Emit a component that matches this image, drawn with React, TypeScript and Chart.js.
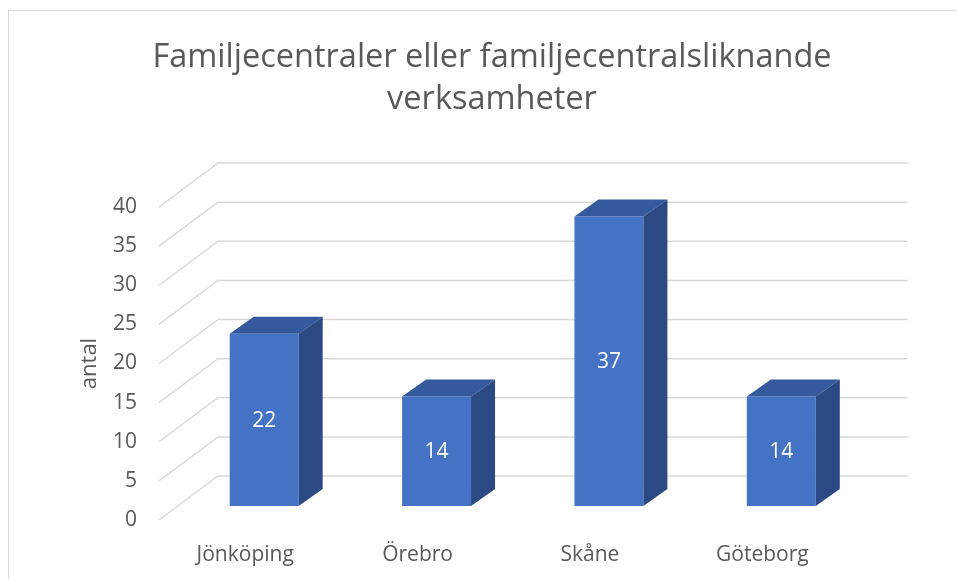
import { useEffect, useRef } from 'react';
import { Chart, registerables } from 'chart.js';

Chart.register(...registerables);

const categories = ['Jönköping', 'Örebro', 'Skåne', 'Göteborg'];
const values = [22, 14, 37, 14];
const titleLines = ['Familjecentraler eller familjecentralsliknande', 'verksamheter'];
const axisTitle = 'antal';
const yMin = 0;
const yMax = 40;
const yStep = 5;

const W = 957;
const H = 579;
const FONT = '"Open Sans", "Noto Sans", sans-serif';
const TEXT = '#595959';
const GRID = '#d9d9d9';
const FRONT = '#4472C4';
const TOP = '#34599C';
const SIDE = '#2B4A83';

// 3D offsets (relative to the bar plane)
const FRONT_DX = -19, FRONT_DY = 14;
const BACK_DX = 40, BACK_DY = -30;
const BAR_DX = 24, BAR_DY = -17;

const threeD = {
  id: 'threeD',
  beforeDraw(chart: any) {
    const { ctx } = chart;
    ctx.save();
    ctx.fillStyle = '#ffffff';
    ctx.fillRect(0, 0, chart.width, chart.height);
    ctx.strokeStyle = GRID;
    ctx.lineWidth = 1;
    ctx.strokeRect(8.5, 10.5, 1400, 1400);
    ctx.fillStyle = TEXT;
    ctx.textAlign = 'center';
    ctx.textBaseline = 'middle';
    ctx.font = `32.5px ${FONT}`;
    ctx.fillText(titleLines[0], 492, 58);
    ctx.fillText(titleLines[1], 492, 100);
    const ys = chart.scales.y;
    const cy = (ys.getPixelForValue(yMin) + ys.getPixelForValue(yMax)) / 2 + FRONT_DY;
    ctx.translate(90, cy);
    ctx.rotate(-Math.PI / 2);
    ctx.font = `22px ${FONT}`;
    ctx.fillText(axisTitle, 0, 0);
    ctx.restore();
  },
  beforeDatasetsDraw(chart: any) {
    const { ctx } = chart;
    const xs = chart.scales.x;
    const ys = chart.scales.y;
    ctx.save();
    ctx.strokeStyle = GRID;
    ctx.lineWidth = 1.5;
    for (let v = yMin; v <= yMax; v += yStep) {
      const y = ys.getPixelForValue(v);
      ctx.beginPath();
      ctx.moveTo(xs.left + FRONT_DX, y + FRONT_DY);
      ctx.lineTo(xs.left + BACK_DX, y + BACK_DY);
      ctx.lineTo(xs.right + BACK_DX, y + BACK_DY);
      ctx.stroke();
    }
    ctx.restore();
  },
  afterDatasetsDraw(chart: any) {
    const { ctx } = chart;
    const meta = chart.getDatasetMeta(0);
    ctx.save();
    meta.data.forEach((bar: any, i: number) => {
      const { x, y, base, width } = bar.getProps(['x', 'y', 'base', 'width'], true);
      const l = x - width / 2;
      const r = x + width / 2;
      // top face
      ctx.fillStyle = TOP;
      ctx.beginPath();
      ctx.moveTo(l, y);
      ctx.lineTo(l + BAR_DX, y + BAR_DY);
      ctx.lineTo(r + BAR_DX, y + BAR_DY);
      ctx.lineTo(r, y);
      ctx.closePath();
      ctx.fill();
      // side face
      ctx.fillStyle = SIDE;
      ctx.beginPath();
      ctx.moveTo(r, y);
      ctx.lineTo(r + BAR_DX, y + BAR_DY);
      ctx.lineTo(r + BAR_DX, base + BAR_DY);
      ctx.lineTo(r, base);
      ctx.closePath();
      ctx.fill();
      // label
      ctx.fillStyle = '#ffffff';
      ctx.font = `21px ${FONT}`;
      ctx.textAlign = 'center';
      ctx.textBaseline = 'middle';
      ctx.fillText(String(values[i]), x, (y + base) / 2 + 1);
    });
    ctx.restore();
  },
};

export default function App() {
  const ref = useRef<HTMLCanvasElement | null>(null);
  useEffect(() => {
    if (!ref.current) return;
    const chart = new Chart(ref.current, {
      type: 'bar',
      data: {
        labels: categories,
        datasets: [
          {
            data: values,
            backgroundColor: FRONT,
            borderWidth: 0,
            categoryPercentage: 1,
            barPercentage: 0.4,
          },
        ],
      },
      options: {
        responsive: false,
        animation: false,
        layout: { padding: { top: 193, right: 89.5, bottom: 0, left: 0 } },
        plugins: {
          legend: { display: false },
          title: { display: false },
          tooltip: { enabled: false },
        },
        scales: {
          x: {
            grid: { display: false, drawTicks: false },
            border: { display: false },
            ticks: {
              color: TEXT,
              font: { family: FONT, size: 21 },
              padding: 36,
              labelOffset: FRONT_DX,
              maxRotation: 0,
            },
            afterFit: (s: any) => {
              s.height = 73;
            },
          },
          y: {
            min: yMin,
            max: yMax,
            grid: { display: false, drawTicks: false },
            border: { display: false },
            ticks: {
              stepSize: yStep,
              color: TEXT,
              font: { family: FONT, size: 21 },
              padding: 41,
              labelOffset: FRONT_DY,
            },
            afterFit: (s: any) => {
              s.width = 178;
            },
          },
        },
      },
      plugins: [threeD],
    });
    return () => chart.destroy();
  }, []);
  return (
    <div style={{ position: 'fixed', left: 0, top: 0, width: W, height: H }}>
      <canvas ref={ref} width={W} height={H} style={{ display: 'block', width: W, height: H }} />
    </div>
  );
}
